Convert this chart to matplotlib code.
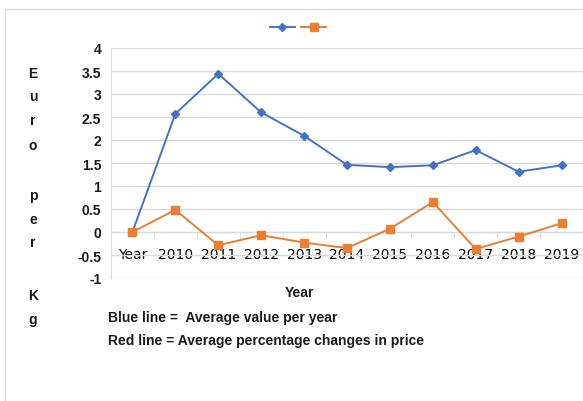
import matplotlib

matplotlib.use("Agg")
import matplotlib.pyplot as plt
from matplotlib.lines import Line2D
from matplotlib.patches import Rectangle

CATEGORIES = ["Year", "2010", "2011", "2012", "2013", "2014",
              "2015", "2016", "2017", "2018", "2019"]
AVERAGE_VALUE = [0.0, 2.57, 3.44, 2.60, 2.09, 1.46, 1.41, 1.45, 1.78, 1.31, 1.45]
PERCENT_CHANGE = [0.0, 0.48, -0.29, -0.07, -0.23, -0.35, 0.07, 0.65, -0.37, -0.10, 0.19]
Y_TICKS = [-1, -0.5, 0, 0.5, 1, 1.5, 2, 2.5, 3, 3.5, 4]
Y_LETTERS = ["E", "u", "r", "o", "p", "e", "r", "K", "g"]
Y_LETTER_ROWS = [74, 97, 121, 146, 196, 220, 243, 296, 320]
NOTES = ["Blue line =  Average value per year",
         "Red line = Average percentage changes in price"]

BLUE = "#4472C4"
ORANGE = "#ED7D31"
GRID = "#D9D9D9"
FONT = "Liberation Sans"
TEXT = dict(fontfamily=FONT, fontweight="bold", fontsize=10, color="#1a1a1a")

W, H = 583, 402
figure = plt.figure(figsize=(W / 100, H / 100), dpi=100)
figure.patches.append(Rectangle((5 / W, -0.1), 1.1, 1 - 10 / H + 0.1,
                                transform=figure.transFigure, fill=False,
                                edgecolor=GRID, linewidth=1.0))

axis = figure.add_axes([111 / W, 1 - 279 / H, 472 / W, 230 / H])
x = list(range(len(CATEGORIES)))
axis.plot(x, AVERAGE_VALUE, color=BLUE, linewidth=1.4, marker="D",
          markersize=4.5, zorder=3, clip_on=False)
axis.plot(x, PERCENT_CHANGE, color=ORANGE, linewidth=1.4, marker="s",
          markersize=5.5, zorder=3, clip_on=False)

axis.set_xlim(-0.5, len(CATEGORIES) - 0.5)
axis.set_ylim(-1, 4)
axis.set_yticks(Y_TICKS)
axis.set_yticklabels([f"{v:g}" for v in Y_TICKS], **TEXT)
axis.set_xticks(x)
axis.set_xticklabels(CATEGORIES, **TEXT)
axis.set_xticks([i + 0.5 for i in x[:-1]], minor=True)
axis.tick_params(axis="x", which="major", length=0, pad=11)
axis.tick_params(axis="x", which="minor", length=4, color=GRID, direction="out")
axis.tick_params(axis="y", length=0, pad=7)
axis.grid(True, axis="y", color=GRID, linewidth=1.0)
axis.set_axisbelow(True)

for side in ("top", "right"):
    axis.spines[side].set_visible(False)
axis.spines["left"].set_color(GRID)
axis.spines["bottom"].set_position(("data", 0))
axis.spines["bottom"].set_color(GRID)

handles = [
    Line2D([], [], color=BLUE, linewidth=1.4, marker="D", markersize=4.5),
    Line2D([], [], color=ORANGE, linewidth=1.4, marker="s", markersize=5.5),
]
figure.legend(handles, ["", ""], loc="center", bbox_to_anchor=(298 / W, 1 - 29 / H),
              ncol=2, frameon=False, handlelength=1.8, handletextpad=0,
              columnspacing=0.5)

figure.text(299 / W, 1 - 293 / H, "Year", ha="center", va="center", **TEXT)
for letter, row in zip(Y_LETTERS, Y_LETTER_ROWS):
    figure.text(33 / W, 1 - row / H, letter, ha="center", va="center", **TEXT)
for i, note in enumerate(NOTES):
    figure.text(108 / W, 1 - (318 + 23 * i) / H, note, ha="left", va="center", **TEXT)

figure.savefig("out.png", dpi=100)
